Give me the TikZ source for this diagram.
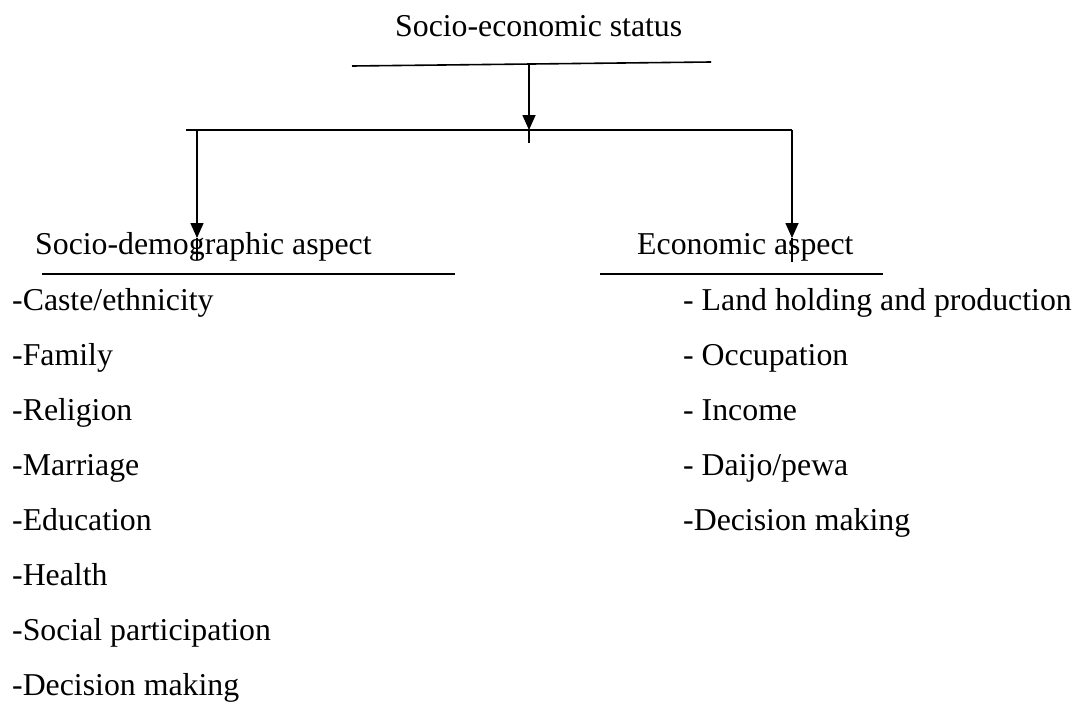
\documentclass[tikz,border=0pt]{standalone}
\usepackage{fontspec}
\setmainfont{Liberation Serif}
\usetikzlibrary{arrows.meta}
\begin{document}
\begin{tikzpicture}[x=1pt,y=-1pt,
  lbl/.style={anchor=base west,inner sep=0pt,font=\fontsize{31.8}{38}\selectfont},
  ln/.style={line width=1.6pt},
  arr/.style={ln,-{Triangle[width=13pt,length=15pt]}}]
\useasboundingbox (0,0) rectangle (1076,704);
% title
\node[lbl] (title) at (395,36) {Socio-economic status};
% top bar and trunk
\coordinate (t1) at (352,66);
\coordinate (t2) at (711,62);
\draw[ln] (t1) -- (t2);
\coordinate (trunkTop) at (529,64);
\coordinate (trunkTip) at (529,130);
\coordinate (trunkEnd) at (529,143);
\draw[arr] (trunkTop) -- (trunkTip);
\draw[ln] (trunkTip) -- (trunkEnd);
% branch bar
\coordinate (b1) at (186,130);
\coordinate (bL) at (197,130);
\coordinate (bR) at (792,130);
\draw[ln] (b1) -- (bR);
% headers
\node[lbl] (soc) at (35,254) {Socio-demographic aspect};
\node[lbl] (eco) at (637,254) {Economic aspect};
\coordinate (lTip) at (197,238);
\coordinate (lEnd) at (197,260);
\coordinate (rTip) at (792,238);
\coordinate (rEnd) at (792,262);
\draw[arr] (bL) -- (lTip);
\draw[ln] (lTip) -- (lEnd);
\draw[arr] (bR) -- (rTip);
\draw[ln] (rTip) -- (rEnd);
% underlines
\coordinate (u1) at (42,274);
\coordinate (u2) at (455,274);
\coordinate (u3) at (600,274);
\coordinate (u4) at (883,274);
\draw[ln] (u1) -- (u2);
\draw[ln] (u3) -- (u4);
% left list
\node[lbl] (l1) at (12,310) {-Caste/ethnicity};
\node[lbl] (l2) at (12,365) {-Family};
\node[lbl] (l3) at (12,420) {-Religion};
\node[lbl] (l4) at (12,475) {-Marriage};
\node[lbl] (l5) at (12,530) {-Education};
\node[lbl] (l6) at (12,585) {-Health};
\node[lbl] (l7) at (12,640) {-Social participation};
\node[lbl] (l8) at (12,695) {-Decision making};
% right list
\node[lbl] (r1) at (683,310) {- Land holding and production};
\node[lbl] (r2) at (683,365) {- Occupation};
\node[lbl] (r3) at (683,420) {- Income};
\node[lbl] (r4) at (683,475) {- Daijo/pewa};
\node[lbl] (r5) at (683,530) {-Decision making};
\end{tikzpicture}
\end{document}
